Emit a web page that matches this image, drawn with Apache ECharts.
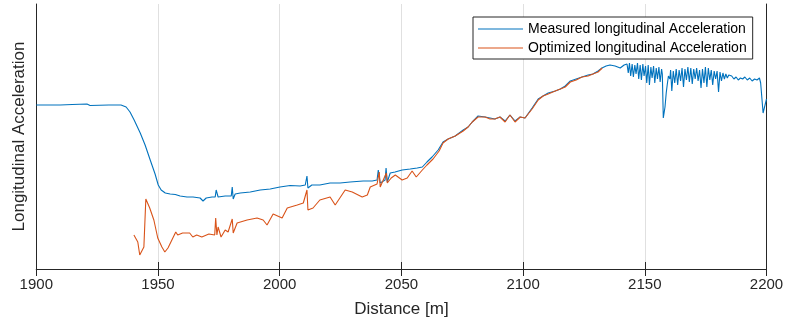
<!DOCTYPE html>
<html>
<head>
<meta charset="utf-8">
<script src="https://cdn.jsdelivr.net/npm/echarts@6/dist/echarts.min.js"></script>
<style>html,body{margin:0;padding:0;background:#fff}#c{width:787px;height:325px}</style>
</head>
<body>
<div id="c"></div>
<script>
// Distance [m] and acceleration (arbitrary units)
var xTicks = [1900, 1950, 2000, 2050, 2100, 2150, 2200];
var seriesNames = ['Measured longitudinal Acceleration', 'Optimized longitudinal Acceleration'];

var measured = [
[1900,1.64],[1909.8,1.64],[1914.8,1.645],[1920.8,1.65],[1922.1,1.635],[1929.8,1.64],[1934.8,1.64],
[1936.9,1.62],[1938.5,1.57],[1940.2,1.49],[1942.7,1.36],[1944.7,1.24],[1946.8,1.09],[1948.8,0.95],
[1950.1,0.84],[1951.3,0.79],[1953.0,0.76],[1955.0,0.75],[1957.1,0.745],[1959.1,0.73],[1961.9,0.72],
[1964.4,0.72],[1967.3,0.71],[1968.5,0.68],[1969.8,0.71],[1972.2,0.72],[1973.5,0.72],[1973.9,0.79],
[1974.7,0.72],[1977.6,0.73],[1980.1,0.73],[1980.5,0.82],[1980.9,0.70],[1981.7,0.75],[1983.8,0.76],
[1987.9,0.77],[1992.0,0.79],[1996.1,0.80],[2000.1,0.82],[2004.3,0.835],[2008.4,0.83],[2010.5,0.84],
[2011.2,0.93],[2011.6,0.81],[2013.2,0.84],[2016.5,0.84],[2020.7,0.86],[2024.8,0.86],[2028.9,0.87],
[2034.3,0.88],[2038.0,0.88],[2040.0,0.89],[2040.5,0.99],[2041.3,0.86],[2043.3,0.89],[2043.7,1.01],
[2044.2,0.87],[2045.4,0.96],[2047.4,0.97],[2050.3,0.99],[2053.6,1.00],[2056.5,1.01],[2058.6,1.02],
[2060.5,1.07],[2062.6,1.12],[2065.1,1.19],[2067.1,1.27],[2069.2,1.30],[2072.1,1.33],[2075.4,1.39],
[2077.4,1.42],[2079.1,1.47],[2081.5,1.53],[2084.4,1.52],[2086.4,1.51],[2088.4,1.50],[2090.5,1.52],
[2092.6,1.48],[2094.6,1.54],[2096.7,1.48],[2098.8,1.52],[2100.8,1.51],[2103.7,1.61],[2106.2,1.70],
[2108.2,1.73],[2110.3,1.76],[2113.2,1.78],[2115.3,1.80],[2117.3,1.83],[2119.4,1.88],[2121.8,1.90],
[2124.2,1.92],[2126.7,1.94],[2128.7,1.95],[2130.8,1.98],[2132.4,2.01],[2134.1,2.03],[2135.7,2.04],
[2137.8,2.03],[2139.9,2.01],[2141.5,2.04],
[2142.7,2.05],[2143.2,1.96],[2143.7,2.06],[2144.2,1.93],[2144.8,2.05],[2145.3,1.92],[2145.9,2.04],
[2146.4,1.95],[2147.0,2.06],[2147.5,1.90],[2148.1,2.04],[2148.6,1.89],[2149.2,2.05],[2149.7,1.93],
[2150.3,2.03],[2150.8,1.86],[2151.4,2.04],[2151.9,1.84],[2152.5,2.02],[2153.0,1.91],[2153.6,2.03],
[2154.1,1.86],[2154.7,2.01],[2155.2,1.90],[2155.8,2.02],[2156.3,1.87],[2156.9,2.00],[2157.2,1.95],
[2157.6,1.51],[2158.3,1.62],[2158.8,1.76],[2159.2,1.84],[2159.7,1.93],[2160.3,1.90],
[2160.6,1.99],[2161.1,1.78],[2161.7,1.98],[2162.3,1.86],[2162.9,2.00],[2163.5,1.84],[2164.1,1.99],
[2164.7,1.88],[2165.3,2.01],[2165.9,1.82],[2166.5,2.00],[2167.1,1.89],[2167.7,2.02],[2168.3,1.87],
[2168.9,2.01],[2169.5,1.85],[2170.1,2.00],[2170.7,1.90],[2171.3,2.01],[2171.9,1.88],[2172.5,1.99],
[2173.1,1.81],[2173.7,2.00],[2174.3,1.86],[2174.9,2.02],[2175.5,1.82],[2176.1,2.01],[2176.7,1.89],
[2177.3,1.99],[2177.9,1.84],[2178.5,1.98],[2179.1,1.90],[2179.7,1.98],[2180.3,1.77],[2180.9,1.97],
[2181.5,1.88],[2182.1,1.96],[2182.7,1.90],[2183.3,1.95],[2183.9,1.91],[2184.5,1.94],[2185.1,1.92],
[2185.7,1.93],[2186.6,1.90],[2187.5,1.92],[2188.4,1.89],[2189.3,1.91],[2190.2,1.90],[2191.1,1.92],
[2192.1,1.89],[2193.1,1.91],[2194.1,1.88],[2195.1,1.90],[2196.1,1.89],[2197.1,1.91],[2197.6,1.86],
[2198.6,1.56],[2199.2,1.62],[2200.0,1.70]
];

var optimized = [
[1940.1,0.34],[1941.7,0.27],[1942.5,0.14],[1943.3,0.13],[1944.2,0.22],[1945.0,0.70],[1946.6,0.61],
[1948.3,0.49],[1949.9,0.31],[1951.6,0.22],[1952.8,0.17],[1954.1,0.21],[1955.7,0.29],[1957.3,0.37],
[1958.1,0.34],[1960.1,0.36],[1963.0,0.36],[1964.3,0.32],[1965.9,0.34],[1968.0,0.32],[1970.9,0.35],
[1973.3,0.34],[1973.7,0.51],[1974.2,0.34],[1974.7,0.42],[1975.9,0.32],[1977.6,0.39],[1978.8,0.37],
[1980.5,0.50],[1980.9,0.36],[1982.5,0.46],[1986.6,0.49],[1990.7,0.51],[1993.2,0.49],[1994.8,0.44],
[1997.3,0.55],[2001.0,0.51],[2003.1,0.61],[2007.2,0.64],[2009.7,0.66],[2011.2,0.79],[2011.6,0.59],
[2013.7,0.61],[2016.5,0.69],[2020.7,0.72],[2022.8,0.64],[2026.9,0.79],[2029.8,0.77],[2033.9,0.72],
[2036.0,0.74],[2037.2,0.82],[2040.0,0.85],[2040.9,0.97],[2041.3,0.82],[2043.8,0.96],[2044.2,0.86],
[2045.8,0.91],[2047.5,0.94],[2050.3,0.89],[2052.4,0.91],[2054.4,0.98],[2056.1,0.92],[2058.6,0.99],
[2060.5,1.04],[2063.0,1.10],[2065.5,1.18],[2067.1,1.26],[2069.2,1.30],[2072.1,1.33],[2075.4,1.38],
[2077.4,1.42],[2079.1,1.47],[2081.5,1.52],[2084.4,1.52],[2086.4,1.50],[2088.4,1.50],[2090.5,1.52],
[2092.6,1.47],[2094.6,1.54],[2096.7,1.47],[2098.8,1.52],[2100.8,1.51],[2103.7,1.60],[2106.2,1.69],
[2108.2,1.73],[2110.3,1.75],[2113.2,1.78],[2115.3,1.80],[2117.3,1.82],[2119.4,1.87],[2121.8,1.89],
[2124.2,1.92],[2126.7,1.93],[2128.7,1.95],[2130.8,1.97],[2132.5,2.01]
];

var FONT = '"Liberation Sans", Arial, Helvetica, sans-serif';
var AX = '#262626';
var LINE_ICON = 'path://M0,0 M45,14 M0,6.5 L45,6.5 L45,7.6 L0,7.6 Z';
var chart = echarts.init(document.getElementById('c'), null, {renderer: 'canvas'});
var baseX = {
  type: 'value', min: xTicks[0], max: xTicks[xTicks.length - 1], interval: 50,
  axisLine: {show: true, lineStyle: {color: AX, width: 1}},
  axisTick: {show: true, inside: true, length: 7, lineStyle: {color: AX, width: 1}},
};
chart.setOption({
  animation: false,
  backgroundColor: '#fff',
  textStyle: {fontFamily: FONT},
  grid: {left: 36.3, right: 20.5, top: 4, bottom: 56, containLabel: false},
  legend: {
    data: [{name: seriesNames[0], icon: LINE_ICON}, {name: seriesNames[1], icon: LINE_ICON}],
    orient: 'vertical', left: 473, top: 17,
    itemWidth: 45, itemHeight: 14, itemGap: 5, padding: [5, 6, 4, 5],
    backgroundColor: '#fff', borderColor: AX, borderWidth: 1, borderRadius: 0,
    textStyle: {fontFamily: FONT, fontSize: 14, color: '#000'}
  },
  xAxis: [
    Object.assign({}, baseX, {
      position: 'bottom', name: 'Distance [m]', nameLocation: 'middle', nameGap: 32,
      nameTextStyle: {fontFamily: FONT, fontSize: 17, color: AX},
      axisLabel: {show: true, margin: 8, fontFamily: FONT, fontSize: 15, color: AX,
                  formatter: function (v) { return String(v); }},
      splitLine: {show: true, lineStyle: {color: '#e0e0e0', width: 1}}
    }),
    Object.assign({}, baseX, {
      position: 'top', axisLabel: {show: false}, splitLine: {show: false}
    })
  ],
  yAxis: [
    {
      type: 'value', min: 0, max: 2.65, position: 'left',
      name: 'Longitudinal Acceleration', nameLocation: 'middle', nameGap: 8,
      nameTextStyle: {fontFamily: FONT, fontSize: 17, color: AX},
      axisLine: {show: true, lineStyle: {color: AX, width: 1}},
      axisTick: {show: false}, axisLabel: {show: false}, splitLine: {show: false}
    },
    {
      type: 'value', min: 0, max: 2.65, position: 'right',
      axisLine: {show: true, lineStyle: {color: AX, width: 1}},
      axisTick: {show: false}, axisLabel: {show: false}, splitLine: {show: false}
    }
  ],
  series: [
    {name: seriesNames[0], type: 'line', data: measured, symbol: 'none', showSymbol: false,
     lineStyle: {color: '#0072BD', width: 1.1}, itemStyle: {color: '#0072BD'}, z: 2},
    {name: seriesNames[1], type: 'line', data: optimized, symbol: 'none', showSymbol: false,
     lineStyle: {color: '#D95319', width: 1.1}, itemStyle: {color: '#D95319'}, z: 3}
  ]
});
</script>
</body>
</html>
